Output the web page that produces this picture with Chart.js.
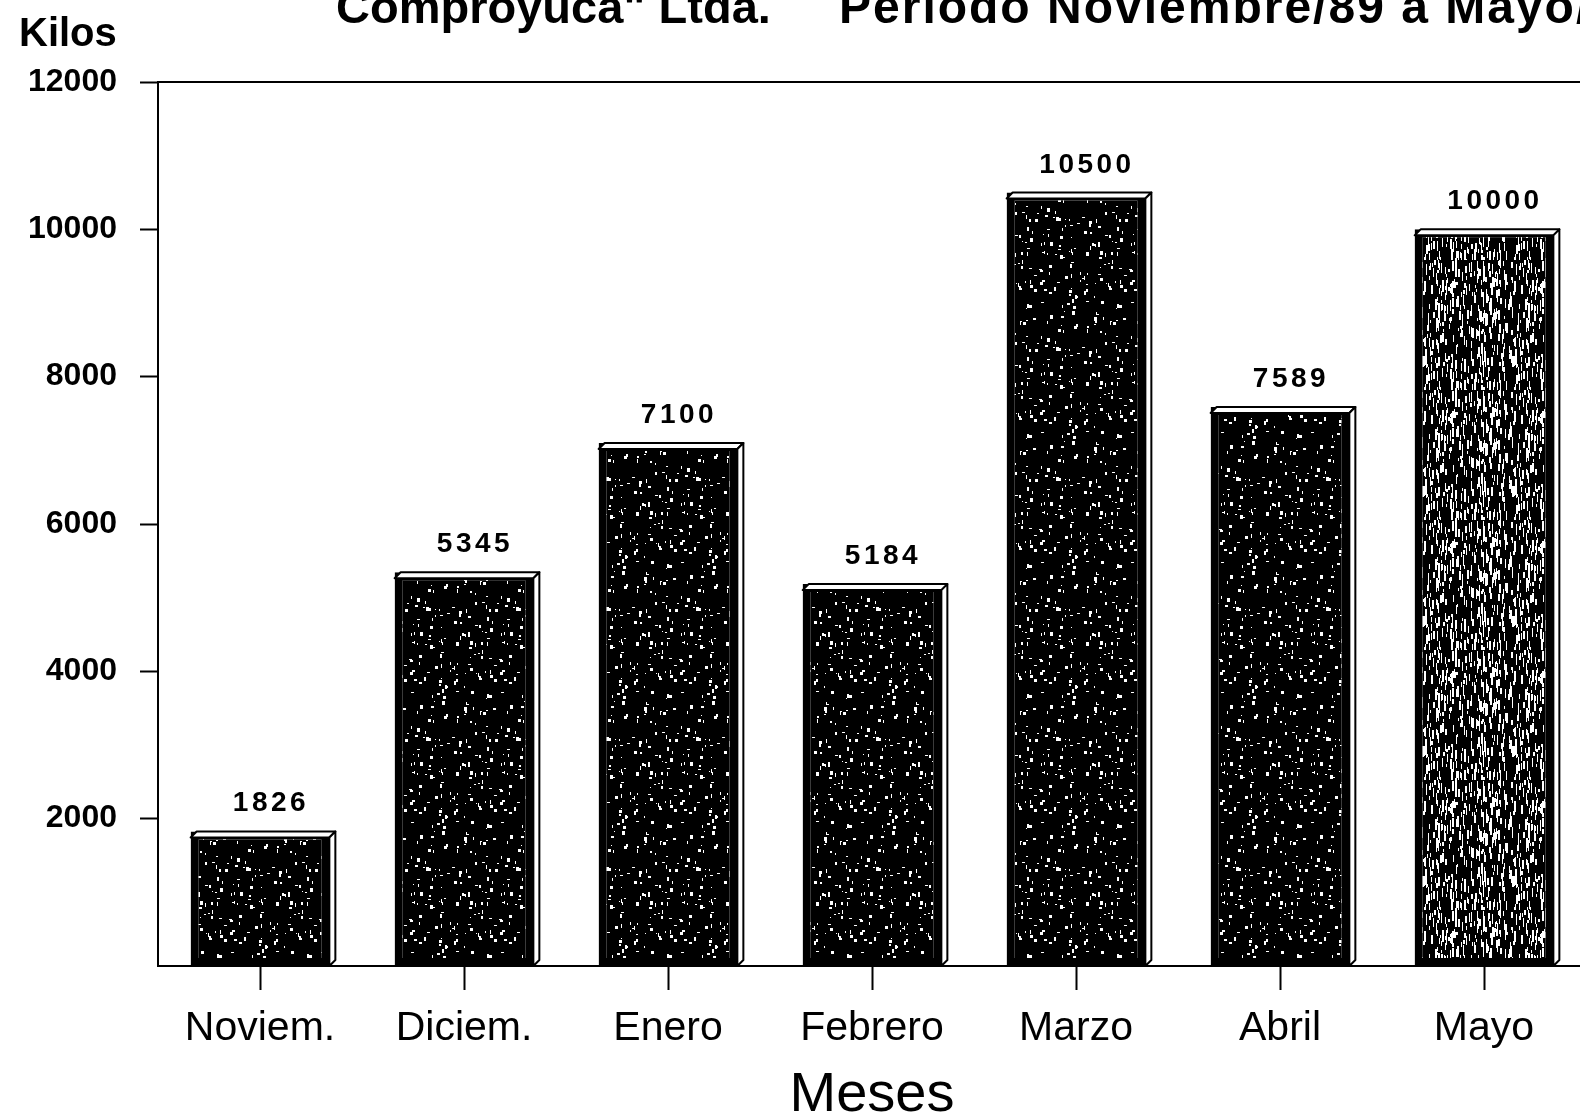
<!DOCTYPE html>
<html>
<head>
<meta charset="utf-8">
<script src="https://cdn.jsdelivr.net/npm/chart.js@4/dist/chart.umd.min.js"></script>
<style>
  html, body { margin: 0; padding: 0; background: #fff; overflow: hidden; }
  #wrap { width: 1600px; height: 1119px; }
</style>
</head>
<body>
<div id="wrap"><canvas id="kilosChart" width="1600" height="1119"></canvas></div>
<script>
// data
const meses = ['Noviem.', 'Diciem.', 'Enero', 'Febrero', 'Marzo', 'Abril', 'Mayo'];
const kilos = [1826, 5345, 7100, 5184, 10500, 7589, 10000];
const yTicks = [2000, 4000, 6000, 8000, 10000, 12000];

const titleFirm = 'Comproyuca" Ltda.';
const titlePeriod = 'Periodo Noviembre/89 a Mayo/90';
const FONT = '"Liberation Sans", Arial, Helvetica, sans-serif';

// speckled black fill, like the old dot-matrix shading
function makeSpeckle(streaky) {
  const c = document.createElement('canvas');
  c.width = 90; c.height = 130;
  const g = c.getContext('2d');
  g.fillStyle = '#000';
  g.fillRect(0, 0, c.width, c.height);
  g.fillStyle = '#fff';
  let s = streaky ? 7 : 3;
  const next = () => { s = (s * 9301 + 49297) % 233280; return s / 233280; };
  const n = streaky ? 380 : 150;
  for (let i = 0; i < n; i++) {
    const x = Math.floor(next() * c.width);
    const y = Math.floor(next() * c.height);
    const w = streaky ? 1 + Math.floor(next() * 1.6) : 1 + Math.floor(next() * 3);
    const h = streaky ? 3 + Math.floor(next() * 9) : 1 + Math.floor(next() * 4);
    g.fillRect(x, y, w, h);
  }
  return g.createPattern(c, 'repeat');
}

const plainFill = makeSpeckle(false);
const streakFill = makeSpeckle(true);
const barFills = meses.map((m, i) => i === meses.length - 1 ? streakFill : plainFill);

const DEPTH = 6;

const decorPlugin = {
  id: 'decor',
  afterDatasetsDraw(chart) {
    const ctx = chart.ctx;
    const meta = chart.getDatasetMeta(0);
    ctx.save();
    ctx.lineWidth = 2;
    ctx.strokeStyle = '#000';
    ctx.lineJoin = 'round';
    meta.data.forEach((bar, i) => {
      const p = bar.getProps(['x', 'y', 'base', 'width'], true);
      const x0 = p.x - p.width / 2, x1 = p.x + p.width / 2;
      const y = p.y;
      // top face
      ctx.beginPath();
      ctx.moveTo(x0, y + DEPTH);
      ctx.lineTo(x0 + DEPTH, y);
      ctx.lineTo(x1 + DEPTH, y);
      ctx.lineTo(x1, y + DEPTH);
      ctx.closePath();
      ctx.fillStyle = '#fff';
      ctx.fill();
      ctx.stroke();
      // right side
      ctx.beginPath();
      ctx.moveTo(x1, y + DEPTH);
      ctx.lineTo(x1 + DEPTH, y);
      ctx.lineTo(x1 + DEPTH, p.base - DEPTH);
      ctx.lineTo(x1, p.base);
      ctx.closePath();
      ctx.fill();
      ctx.stroke();
      // value label
      ctx.fillStyle = '#000';
      ctx.font = 'bold 28px ' + FONT;
      ctx.letterSpacing = '3.5px';
      ctx.textAlign = 'center';
      ctx.textBaseline = 'alphabetic';
      ctx.fillText(String(kilos[i]), p.x + 11, y - 20);
    });
    ctx.restore();
  },
  afterDraw(chart) {
    const ctx = chart.ctx;
    const area = chart.chartArea;
    ctx.save();
    // top border of the plot box
    ctx.strokeStyle = '#000';
    ctx.lineWidth = 2;
    ctx.beginPath();
    ctx.moveTo(area.left, area.top);
    ctx.lineTo(chart.width, area.top);
    ctx.stroke();
    ctx.fillStyle = '#000';
    ctx.textAlign = 'left';
    ctx.textBaseline = 'alphabetic';
    ctx.font = 'bold 47px ' + FONT;
    ctx.letterSpacing = '0px';
    ctx.fillText(titleFirm, 336, 23);
    ctx.font = 'bold 48px ' + FONT;
    ctx.letterSpacing = '2px';
    ctx.fillText(titlePeriod, 839, 23);
    ctx.font = 'bold 40px ' + FONT;
    ctx.letterSpacing = '0px';
    ctx.fillText('Kilos', 19, 46);
    ctx.restore();
  }
};

new Chart(document.getElementById('kilosChart'), {
  type: 'bar',
  data: {
    labels: meses,
    datasets: [{
      label: 'Kilos',
      data: kilos,
      backgroundColor: barFills,
      borderColor: '#000',
      borderWidth: 8,
      borderSkipped: false,
      categoryPercentage: 1,
      barPercentage: 0.68
    }]
  },
  options: {
    responsive: false,
    animation: false,
    layout: { padding: { top: 82, right: 14, bottom: 0, left: 0 } },
    plugins: {
      legend: { display: false },
      tooltip: { enabled: false }
    },
    scales: {
      x: {
        grid: { offset: false, drawOnChartArea: false, tickLength: 24, tickColor: '#000', tickWidth: 2 },
        border: { display: true, color: '#000', width: 2 },
        ticks: { color: '#000', padding: 14, font: { family: FONT, size: 41 } },
        title: {
          display: true, text: 'Meses', color: '#000',
          font: { family: FONT, size: 56, lineHeight: 0.8 },
          padding: { top: 0, bottom: 1 }
        },
        afterFit(scale) { scale.height = 153; }
      },
      y: {
        min: 0,
        max: 12000,
        afterBuildTicks(scale) { scale.ticks = yTicks.map(v => ({ value: v })); },
        grid: { drawOnChartArea: false, tickLength: 18, tickColor: '#000', tickWidth: 2 },
        border: { display: true, color: '#000', width: 2 },
        ticks: {
          color: '#000', padding: 23,
          font: { family: FONT, size: 32, weight: 'bold' },
          callback: v => String(v)
        },
        afterFit(scale) { scale.width = 158; }
      }
    }
  },
  plugins: [decorPlugin]
});
</script>
</body>
</html>
